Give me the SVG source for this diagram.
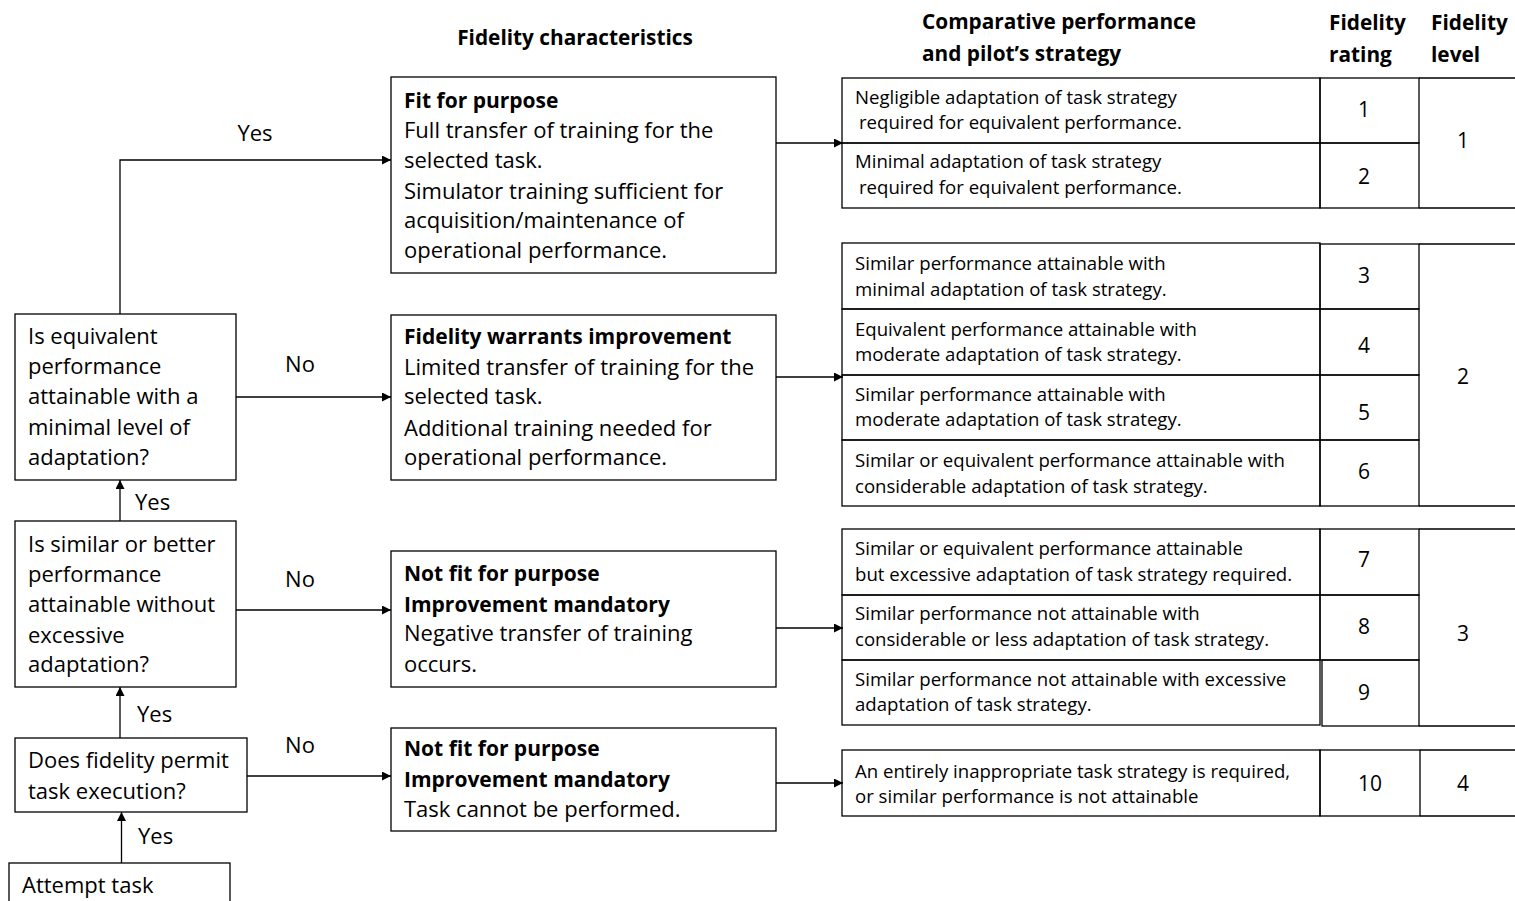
<svg xmlns="http://www.w3.org/2000/svg" width="1515" height="901" viewBox="0 0 1515 901">
  <style>
    text { font-family: "Open Sans", "Noto Sans", sans-serif; fill: #000; }
    .t { font-size: 22px; }
    .b { font-weight: bold; font-size: 21px; }
    .h { font-size: 20.8px; font-weight: bold; }
    .s { font-size: 18.6px; }
    .n { font-size: 21px; text-anchor: middle; }
    .box { fill: #fff; stroke: #000; stroke-width: 1.3; }
    .cell { fill: none; stroke: #000; stroke-width: 1.3; }
    .edge { fill: none; stroke: #000; stroke-width: 1.3; }
  </style>
  <defs>
    <marker id="arrow" viewBox="0 0 10 10" refX="10" refY="5" markerWidth="11" markerHeight="9" markerUnits="userSpaceOnUse" orient="auto">
      <path d="M0,0 L10,5 L0,10 Z" fill="#000"/>
    </marker>
  </defs>
  <rect width="1515" height="901" fill="#fff"/>

  <!-- column headings -->
  <g id="headings">
    <text class="h" x="575" y="45" text-anchor="middle">Fidelity characteristics</text>
    <text class="h" x="922" y="29">Comparative performance</text>
    <text class="h" x="922" y="61">and pilot’s strategy</text>
    <text class="h" x="1329" y="30">Fidelity</text>
    <text class="h" x="1329" y="62">rating</text>
    <text class="h" x="1431" y="30">Fidelity</text>
    <text class="h" x="1431" y="62">level</text>
  </g>

  <!-- decision chain -->
  <g id="q-equivalent">
    <rect class="box" x="15" y="314" width="221" height="166"/>
    <text class="t" x="28" y="344">Is equivalent</text>
    <text class="t" x="28" y="374">performance</text>
    <text class="t" x="28" y="404">attainable with a</text>
    <text class="t" x="28" y="435">minimal level of</text>
    <text class="t" x="28" y="465">adaptation?</text>
  </g>
  <g id="q-similar">
    <rect class="box" x="15" y="521" width="221" height="166"/>
    <text class="t" x="28" y="552">Is similar or better</text>
    <text class="t" x="28" y="582">performance</text>
    <text class="t" x="28" y="612">attainable without</text>
    <text class="t" x="28" y="643">excessive</text>
    <text class="t" x="28" y="672">adaptation?</text>
  </g>
  <g id="q-permit">
    <rect class="box" x="15" y="738" width="232" height="74"/>
    <text class="t" x="28" y="768">Does fidelity permit</text>
    <text class="t" x="28" y="799">task execution?</text>
  </g>
  <g id="attempt">
    <rect class="box" x="9" y="863" width="221" height="50"/>
    <text class="t" x="22" y="893">Attempt task</text>
  </g>

  <!-- fidelity characteristics -->
  <g id="fit">
    <rect class="box" x="391" y="77" width="385" height="196"/>
    <text class="b" x="404" y="108">Fit for purpose</text>
    <text class="t" x="404" y="138">Full transfer of training for the</text>
    <text class="t" x="404" y="168">selected task.</text>
    <text class="t" x="404" y="199">Simulator training sufficient for</text>
    <text class="t" x="404" y="228">acquisition/maintenance of</text>
    <text class="t" x="404" y="258">operational performance.</text>
  </g>
  <g id="warrants">
    <rect class="box" x="391" y="315" width="385" height="165"/>
    <text class="b" x="404" y="344">Fidelity warrants improvement</text>
    <text class="t" x="404" y="375">Limited transfer of training for the</text>
    <text class="t" x="404" y="404">selected task.</text>
    <text class="t" x="404" y="436">Additional training needed for</text>
    <text class="t" x="404" y="465">operational performance.</text>
  </g>
  <g id="not-fit-negative">
    <rect class="box" x="391" y="551" width="385" height="136"/>
    <text class="b" x="404" y="581">Not fit for purpose</text>
    <text class="b" x="404" y="612">Improvement mandatory</text>
    <text class="t" x="404" y="641">Negative transfer of training</text>
    <text class="t" x="404" y="672">occurs.</text>
  </g>
  <g id="not-fit-cannot">
    <rect class="box" x="391" y="728" width="385" height="103"/>
    <text class="b" x="404" y="756">Not fit for purpose</text>
    <text class="b" x="404" y="787">Improvement mandatory</text>
    <text class="t" x="404" y="817">Task cannot be performed.</text>
  </g>

  <!-- rating table, level 1 -->
  <g id="level-1">
    <rect class="cell" x="842" y="78" width="478" height="65"/>
    <rect class="cell" x="842" y="143" width="478" height="65"/>
    <rect class="cell" x="1320" y="78" width="99" height="65"/>
    <rect class="cell" x="1320" y="143" width="99" height="65"/>
    <path class="cell" d="M1419,78 H1516 M1419,208 H1516"/>
    <text class="s" x="855" y="104">Negligible adaptation of task strategy</text>
    <text class="s" x="859" y="129"> required for equivalent performance.</text>
    <text class="s" x="855" y="168">Minimal adaptation of task strategy</text>
    <text class="s" x="859" y="194"> required for equivalent performance.</text>
    <text class="n" x="1364" y="117">1</text>
    <text class="n" x="1364" y="184">2</text>
    <text class="n" x="1463" y="148">1</text>
  </g>

  <!-- rating table, level 2 -->
  <g id="level-2">
    <rect class="cell" x="842" y="243" width="478" height="66"/>
    <rect class="cell" x="842" y="309" width="478" height="66"/>
    <rect class="cell" x="842" y="375" width="478" height="65"/>
    <rect class="cell" x="842" y="440" width="478" height="66"/>
    <rect class="cell" x="1320" y="244" width="99" height="65"/>
    <rect class="cell" x="1320" y="309" width="99" height="66"/>
    <rect class="cell" x="1320" y="375" width="99" height="65"/>
    <rect class="cell" x="1320" y="440" width="99" height="66"/>
    <path class="cell" d="M1419,244 H1516 M1419,506 H1516"/>
    <text class="s" x="855" y="270">Similar performance  attainable with</text>
    <text class="s" x="855" y="296">minimal adaptation of task strategy.</text>
    <text class="s" x="855" y="336">Equivalent performance  attainable with</text>
    <text class="s" x="855" y="361">moderate  adaptation of task strategy.</text>
    <text class="s" x="855" y="401">Similar performance  attainable with</text>
    <text class="s" x="855" y="426">moderate  adaptation of task strategy.</text>
    <text class="s" x="855" y="467">Similar or  equivalent performance  attainable with</text>
    <text class="s" x="855" y="493">considerable adaptation of task strategy.</text>
    <text class="n" x="1364" y="283">3</text>
    <text class="n" x="1364" y="353">4</text>
    <text class="n" x="1364" y="420">5</text>
    <text class="n" x="1364" y="479">6</text>
    <text class="n" x="1463" y="384">2</text>
  </g>

  <!-- rating table, level 3 -->
  <g id="level-3">
    <rect class="cell" x="842" y="529" width="478" height="66"/>
    <rect class="cell" x="842" y="595" width="478" height="65"/>
    <rect class="cell" x="842" y="660" width="478" height="65"/>
    <rect class="cell" x="1320" y="529" width="99" height="66"/>
    <rect class="cell" x="1320" y="595" width="99" height="65"/>
    <rect class="cell" x="1322" y="660" width="97" height="66"/>
    <path class="cell" d="M1419,529 H1516 M1419,726 H1516"/>
    <text class="s" x="855" y="555">Similar or  equivalent performance  attainable</text>
    <text class="s" x="855" y="581">but  excessive adaptation of task strategy required.</text>
    <text class="s" x="855" y="620">Similar performance  not attainable with</text>
    <text class="s" x="855" y="646">considerable or  less adaptation of task strategy.</text>
    <text class="s" x="855" y="686">Similar performance  not attainable with excessive</text>
    <text class="s" x="855" y="711">adaptation of task strategy.</text>
    <text class="n" x="1364" y="567">7</text>
    <text class="n" x="1364" y="634">8</text>
    <text class="n" x="1364" y="700">9</text>
    <text class="n" x="1463" y="641">3</text>
  </g>

  <!-- rating table, level 4 -->
  <g id="level-4">
    <rect class="cell" x="842" y="750" width="478" height="66"/>
    <rect class="cell" x="1320" y="750" width="100" height="66"/>
    <path class="cell" d="M1420,750 H1516 M1420,816 H1516"/>
    <text class="s" x="855" y="778">An entirely inappropriate  task strategy is required,</text>
    <text class="s" x="855" y="803">or similar performance  is not attainable</text>
    <text class="n" x="1370" y="791">10</text>
    <text class="n" x="1463" y="791">4</text>
  </g>

  <!-- connectors -->
  <g id="connectors">
    <path class="edge" d="M120,314 V160 H391" marker-end="url(#arrow)"/>
    <path class="edge" d="M236,397 H391" marker-end="url(#arrow)"/>
    <path class="edge" d="M236,610 H391" marker-end="url(#arrow)"/>
    <path class="edge" d="M247,776 H391" marker-end="url(#arrow)"/>
    <path class="edge" d="M120,521 V480" marker-end="url(#arrow)"/>
    <path class="edge" d="M120,738 V687" marker-end="url(#arrow)"/>
    <path class="edge" d="M121.5,863 V812" marker-end="url(#arrow)"/>
    <path class="edge" d="M776,143 H843" marker-end="url(#arrow)"/>
    <path class="edge" d="M776,377 H843" marker-end="url(#arrow)"/>
    <path class="edge" d="M776,628 H843" marker-end="url(#arrow)"/>
    <path class="edge" d="M776,783 H843" marker-end="url(#arrow)"/>
    <text class="t" x="255" y="141" text-anchor="middle">Yes</text>
    <text class="t" x="300" y="372" text-anchor="middle">No</text>
    <text class="t" x="300" y="587" text-anchor="middle">No</text>
    <text class="t" x="300" y="753" text-anchor="middle">No</text>
    <text class="t" x="135" y="510">Yes</text>
    <text class="t" x="137" y="722">Yes</text>
    <text class="t" x="138" y="844">Yes</text>
  </g>
</svg>
